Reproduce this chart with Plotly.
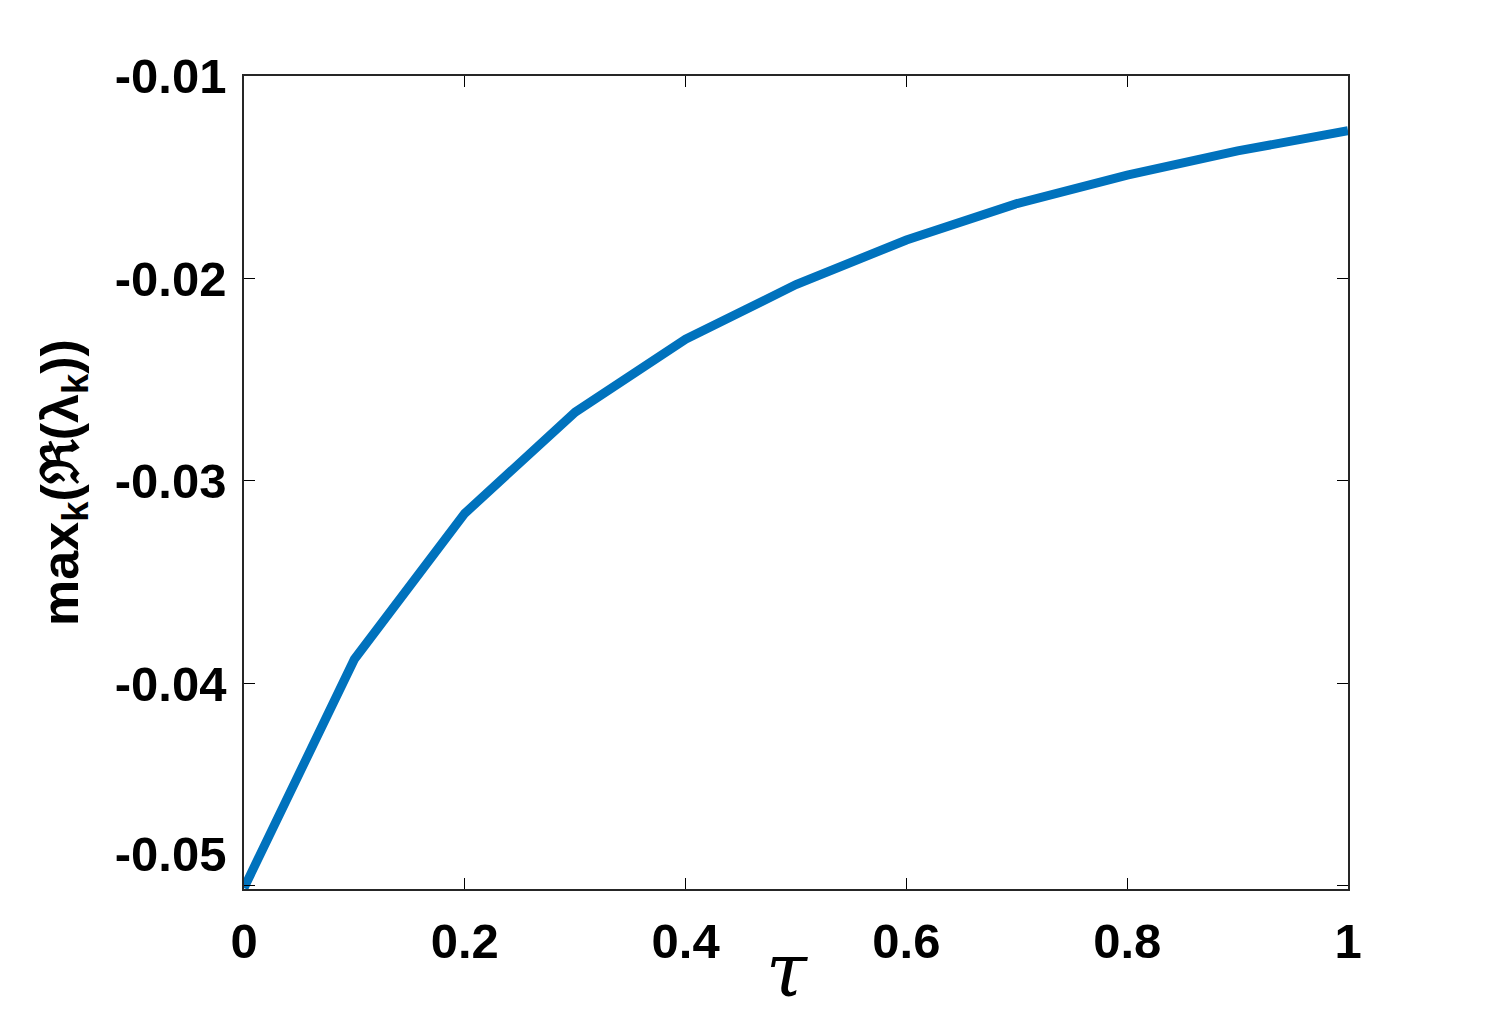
import plotly.graph_objects as go

# tau values and the largest real part of the eigenvalues
tau = [0.0, 0.1, 0.2, 0.3, 0.4, 0.5, 0.6, 0.7, 0.8, 0.9, 1.0]
max_re_lambda = [-0.0501, -0.0388, -0.0316, -0.0266, -0.0230, -0.0203,
                 -0.0181, -0.0163, -0.0149, -0.0137, -0.0127]

x_ticks = [0, 0.2, 0.4, 0.6, 0.8, 1]
x_tick_text = ["0", "0.2", "0.4", "0.6", "0.8", "1"]
y_ticks = [-0.05, -0.04, -0.03, -0.02, -0.01]
# bottom label sits a bit higher in the original, a blank second line lifts it
y_tick_text = ["-0.05<br> ", "-0.04", "-0.03", "-0.02", "-0.01"]

fig = go.Figure()

fig.add_trace(go.Scatter(
    x=tau,
    y=max_re_lambda,
    mode='lines',
    line=dict(color='#0072BD', width=9),
    showlegend=False
))

tick_font = dict(family="Liberation Sans", size=49, color="black", weight="bold")

fig.update_layout(
    width=1474,
    height=1008,
    margin=dict(l=236, r=134, t=68, b=127),
    plot_bgcolor='white',
    paper_bgcolor='white',
    xaxis=dict(
        range=[0, 1],
        tickvals=x_ticks,
        ticktext=x_tick_text,
        tickfont=tick_font,
        ticks='inside',
        ticklen=11,
        tickcolor='black',
        ticklabelstandoff=8,
        showline=True,
        linecolor='#262626',
        linewidth=1.5,
        mirror='allticks',
        showgrid=False,
        zeroline=False,
    ),
    yaxis=dict(
        range=[-0.05015, -0.01],
        tickvals=y_ticks,
        ticktext=y_tick_text,
        tickfont=tick_font,
        ticks='inside',
        ticklen=11,
        tickcolor='black',
        ticklabelstandoff=6,
        showline=True,
        linecolor='#262626',
        linewidth=1.5,
        mirror='allticks',
        showgrid=False,
        zeroline=False,
        title=dict(
            text="max<sub>k</sub>(ℜ(λ<sub>k</sub>))",
            font=dict(family="Liberation Sans", size=52, color="black", weight="bold"),
            standoff=20,
        ),
    ),
    annotations=[dict(
        text="τ",
        xref="paper", yref="paper",
        x=0.492, y=-0.100,
        xanchor="center", yanchor="middle",
        showarrow=False,
        font=dict(family="DejaVu Serif", size=74, color="black", style="italic"),
    )],
)

fig.write_html("out.html")
